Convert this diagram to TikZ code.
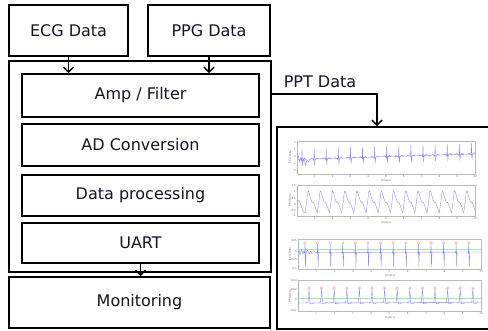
\documentclass[tikz,border=0pt]{standalone}
\usepackage{fontspec}
\setmainfont{DejaVu Sans}
\usetikzlibrary{arrows.meta}
\definecolor{txt}{RGB}{20,20,40}
\definecolor{wave}{RGB}{135,135,255}
\definecolor{grn}{RGB}{160,235,160}
\definecolor{pk}{RGB}{245,150,150}
\tikzset{
  box/.style={draw, line width=1.6pt, font=\fontsize{16}{18}\selectfont, text=txt, inner sep=0pt},
  arr/.style={line width=1.6pt, -{Straight Barb[length=5pt,width=10pt,line width=1.5pt]}},
  frm/.style={draw=gray!55, line width=0.3pt},
  wv/.style={wave, line width=0.35pt},
  tk/.style={font=\fontsize{2.6}{3}\selectfont, text=gray!80!black, inner sep=0pt},
  gl/.style={grn, line width=0.35pt},
  pkc/.style={draw=pk, line width=0.35pt},
}
\begin{document}
\begin{tikzpicture}[x=1pt,y=-1pt]
\useasboundingbox (0,0) rectangle (488,331);
\fill[white] (0,0) rectangle (488,331);
% left blocks
\node[box, minimum width=119pt, minimum height=51pt] (ecg) at (68.5,30.5) {ECG Data};
\node[box, minimum width=122pt, minimum height=51pt] (ppg) at (209,30.5) {PPG Data};
\node[box, minimum width=262pt, minimum height=211pt] (outer) at (140,166.5) {};
\node[box, minimum width=237pt, minimum height=43pt] (amp) at (140.5,95.5) {Amp / Filter};
\node[box, minimum width=237pt, minimum height=42pt] (adc) at (140.5,145) {AD Conversion};
\node[box, minimum width=237pt, minimum height=41pt] (dp) at (140.5,195.5) {Data processing};
\node[box, minimum width=237pt, minimum height=40pt] (uart) at (140.5,243) {UART};
\node[box, minimum width=261pt, minimum height=51pt] (mon) at (139.5,302.5) {Monitoring};
\node[box, minimum width=243pt, minimum height=202pt] (rb) at (398.5,228) {};
% connectors
\draw[arr] (ecg.south) -- (ecg.south |- amp.north);
\draw[arr] (ppg.south) -- (ppg.south |- amp.north);
\draw[arr] (uart.south) -- (uart.south |- mon.north);
\coordinate (pptc) at (377,94);
\draw[arr] (pptc -| outer.east) -| (pptc |- rb.north);
\node[font=\fontsize{16}{18}\selectfont, text=txt, inner sep=0pt] (ppt) at (320,82) {PPT Data};

% ---------- plot 1 (ECG raw)
\draw[frm] (297,141) rectangle (475,174);
\foreach \i in {1,...,10} \node[tk] at (297+\i*17.8,177) {\i};
\node[tk] at (386,180.5) {Time(s)};
\node[tk, rotate=90] at (290,157) {ECG Data};
\foreach \v/\yy in {2/143,1/150,0/157,-1/164,-2/171} \node[tk, anchor=east] at (296,\yy) {\v};
\draw[wv] (297,158) -- (298.5,156) -- (299.5,162) -- (301,157) -- (302.5,163) -- (304,158) -- (305.5,165) -- (307,160) -- (308.5,162) -- (310,159) -- (475,154);
\foreach \k in {0,...,14} {
  \pgfmathsetmacro\xb{302+\k*12.1}
  \pgfmathsetmacro\b{160-6*(\xb-297)/178}
  \draw[wv] (\xb-4,\b) -- (\xb-2.5,\b-1) -- (\xb-1,\b) -- (\xb-0.4,\b+1) -- (\xb,\b-11) -- (\xb+0.6,\b+6) -- (\xb+1.2,\b) -- (\xb+3,\b-1.5) -- (\xb+4.5,\b);
}
% ---------- plot 2 (PPG raw)
\draw[frm] (297,185) rectangle (475,216);
\foreach \i in {1,...,10} \node[tk] at (297+\i*17.8,219) {\i};
\node[tk] at (386,222.5) {Time(s)};
\node[tk, rotate=90] at (290,200) {PPG Data};
\foreach \v/\yy in {1.5/186,1/192,0.5/199,0/205,-0.5/211,-1/216} \node[tk, anchor=east] at (296,\yy) {\v};
\draw[wv] plot[smooth, tension=0.5] coordinates {(297,201) (298.5,200) (301,205) (303,211) (305,213)};
\foreach \k in {0,...,13} {
  \pgfmathsetmacro\xp{308+\k*12.2}
  \draw[wv] plot[smooth, tension=0.5] coordinates {(\xp-3,213) (\xp-1.5,203) (\xp,191) (\xp+2,196) (\xp+3.5,201) (\xp+4.5,202.5) (\xp+5.5,202.3) (\xp+7,206) (\xp+9.2,213)};
}
% ---------- plot 3 (ECG filtered)
\draw[frm] (298,239) rectangle (481,269);
\foreach \i in {1,...,10} \node[tk] at (298+\i*18.3,272) {\i};
\node[tk] at (390,275.5) {Time(s)};
\node[tk, rotate=90] at (290,254) {ECG Data};
\foreach \v/\yy in {0.05/241,0/252,-0.05/260,-0.1/269} \node[tk, anchor=east] at (297,\yy) {\v};
\draw[gl] (298,249) -- (481,249);
\draw[wv] (298,252) -- (299,250) -- (300,255) -- (301.5,249.5) -- (303,254) -- (304,251) -- (306,253) -- (307.5,250) -- (309,254.5) -- (310.5,251) -- (312,253.5) -- (314,251.5) -- (316,252.5) -- (481,252);
\foreach \k in {0,...,13} {
  \pgfmathsetmacro\xb{305+\k*12.6}
  \draw[wv] (\xb-1,252) -- (\xb-0.4,253) -- (\xb,244) -- (\xb+0.5,267) -- (\xb+1,252);
  \draw[pkc] (\xb,243) circle (1.3);
}
% ---------- plot 4 (PPG filtered)
\draw[frm] (298,280) rectangle (481,311);
\foreach \i in {1,...,10} \node[tk] at (298+\i*18.3,314) {\i};
\node[tk] at (390,317.5) {Time(s)};
\node[tk, rotate=90] at (290,296) {PPG Data};
\foreach \v/\yy in {0.04/281,0.02/290,0/300,-0.02/311} \node[tk, anchor=east] at (297,\yy) {\v};
\draw[gl] (298,298) -- (481,298);
\draw[wv] (298.5,284) -- (298.5,303) -- (481,302.5);
\foreach \k in {0,...,13} {
  \pgfmathsetmacro\xb{309+\k*12.6}
  \draw[wv] (\xb-3,302.5) -- (\xb-1,302) -- (\xb-0.4,295) -- (\xb,288.5) -- (\xb+0.5,296) -- (\xb+1,303.5) -- (\xb+2.5,304) -- (\xb+5,302.5);
  \draw[pkc] (\xb,288) circle (1.3);
}
\end{tikzpicture}
\end{document}
